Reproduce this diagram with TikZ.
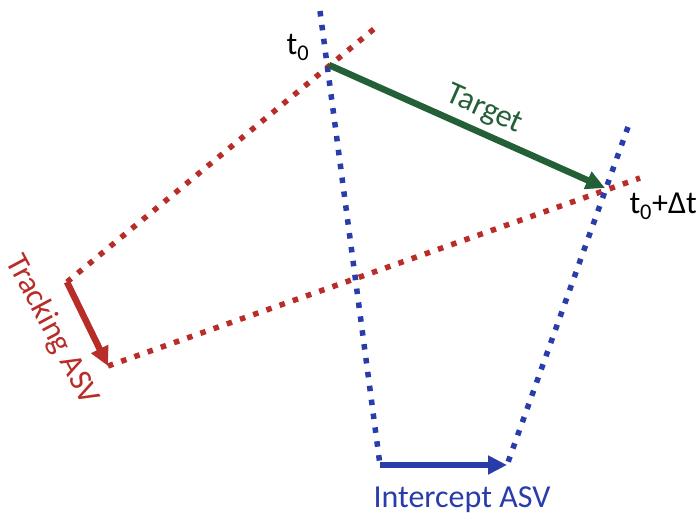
\documentclass[tikz,border=0pt]{standalone}
\usepackage{fontspec}
\setmainfont{Carlito}
\usetikzlibrary{arrows.meta}
\definecolor{trackred}{RGB}{185,45,40}
\definecolor{icptblue}{RGB}{40,60,170}
\definecolor{tgtgreen}{RGB}{35,95,55}
\tikzset{
    dotline/.style={line width=5.5pt, dash pattern=on 5.5pt off 8.5pt},
    motion/.style={line width=6.5pt, -{Triangle[length=19pt,width=18pt]}},
    lab/.style={font=\fontsize{32}{36}\selectfont, inner sep=0pt}
}
\begin{document}
\begin{tikzpicture}[x=1pt, y=-1pt]
    \useasboundingbox (0,0) rectangle (699,520);
    % points
    \coordinate (t0) at (329,65);
    \coordinate (t1) at (605,188);
    \coordinate (trA) at (67,282);
    \coordinate (trB) at (108,366);
    \coordinate (icA) at (380,465);
    \coordinate (icB) at (507,465);
    \coordinate (redtop) at (380,24);
    \coordinate (redend) at (640,178);
    \coordinate (bluetop) at (320,11);
    \coordinate (bluetop2) at (628,127);
    % lines of sight
    \draw[dotline, trackred] (trA) -- (redtop);
    \draw[dotline, trackred] (trB) -- (redend);
    \draw[dotline, icptblue] (bluetop) -- (icA);
    \draw[dotline, icptblue] (bluetop2) -- (icB);
    % motions
    \draw[motion, tgtgreen] (t0) -- (t1);
    \draw[motion, trackred] (trA) -- (trB);
    \draw[motion, icptblue] (icA) -- (icB);
    % labels
    \node[lab] (lt0) at (298,47) {t\textsubscript{0}};
    \node[lab, anchor=east] (lt1) at (697,206) {t\textsubscript{0}+Δt};
    \node[lab, tgtgreen, rotate=-24] (ltgt) at (484,110) {Target};
    \node[lab, trackred, rotate=-62] (ltrk) at (52,330) {Tracking ASV};
    \node[lab, icptblue] (licp) at (462,500) {Intercept ASV};
\end{tikzpicture}
\end{document}
